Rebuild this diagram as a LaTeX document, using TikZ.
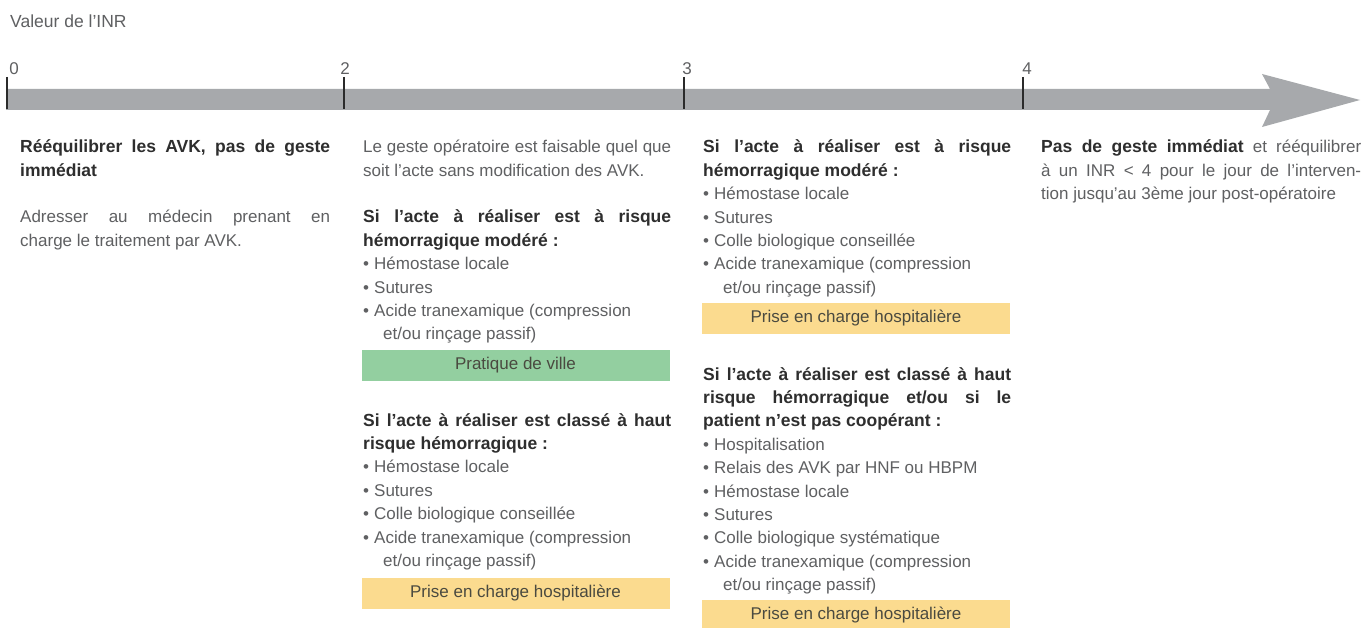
\documentclass[tikz,border=0pt]{standalone}
\usepackage{fontspec}
\setmainfont{Liberation Sans}
\definecolor{txtgrey}{HTML}{5F6062}
\definecolor{hdcol}{HTML}{2E2E2E}
\definecolor{barcol}{HTML}{A7A9AC}
\definecolor{tickcol}{HTML}{2B2B2B}
\definecolor{greenfill}{HTML}{93CFA0}
\definecolor{yellowfill}{HTML}{FBDB8F}
\definecolor{boxtext}{HTML}{4A4A40}
\newcommand\hd[1]{{\fontsize{17.5}{23.4}\selectfont\bfseries\color{hdcol}#1}}
\newcommand\itm[1]{\par\hangindent=20pt\hangafter=1\noindent\makebox[11pt][l]{\textbullet}#1\par}
\begin{document}
\begin{tikzpicture}[x=1pt,y=-1pt,
  txt/.style={anchor=base west, inner sep=0pt, align=justify, text=txtgrey,
    font={\fontsize{17}{23.4}\selectfont\tolerance=10000\hbadness=10000\hyphenpenalty=10000}},
  lbl/.style={inner sep=0pt, text=txtgrey, font={\fontsize{17}{20}\selectfont}},
  tickline/.style={draw=tickcol, line width=2pt},
  hosp/.style={fill=yellowfill, inner sep=0pt, minimum width=308pt, minimum height=31pt,
    text=boxtext, font={\fontsize{17}{20}\selectfont}},
  ville/.style={hosp, fill=greenfill}]
\useasboundingbox (0,0) rectangle (1367,628);
\fill[white] (0,0) rectangle (1367,628);
% axis
\fill[barcol] (6,89) -- (1270,89) -- (1262,74) -- (1360,100) -- (1262,127) -- (1270,110) -- (6,110) -- cycle;
\foreach \xx/\lab in {7/0,344/2,684/3,1023/4}{
  \draw[tickline] (\xx,77) -- (\xx,109);
}
\node[lbl, anchor=base] (l0) at (14,75) {0};
\node[lbl, anchor=base] (l2) at (345,75) {2};
\node[lbl, anchor=base] (l3) at (687,75) {3};
\node[lbl, anchor=base] (l4) at (1027,75) {4};
\node[lbl, anchor=base west, font={\fontsize{17.5}{20}\selectfont}] (title) at (10,28) {Valeur de l'INR};
% column 1
\node[txt, text width=310pt] (c1a) at (20,153) {\hd{Rééquilibrer les AVK, pas de geste\linebreak immédiat}};
\node[txt, text width=310pt] (c1b) at (20,223) {Adresser au médecin prenant en\linebreak charge le traitement par AVK.};
% column 2
\node[txt, text width=308pt] (c2a) at (363,153) {Le geste opératoire est faisable quel que\linebreak soit l'acte sans modification des AVK.};
\node[txt, text width=308pt] (c2b) at (363,223) {\hd{Si l'acte à réaliser est à risque\linebreak hémorragique modéré~:}
  \itm{Hémostase locale}
  \itm{Sutures}
  \itm{Acide tranexamique (compression\newline et/ou rinçage passif)}};
\node[ville] (pv) at (515.5,365.5) {Pratique de ville};
\node[txt, text width=308pt] (c2c) at (363,426) {\hd{Si l'acte à réaliser est classé à haut\linebreak risque hémorragique~:}
  \itm{Hémostase locale}
  \itm{Sutures}
  \itm{Colle biologique conseillée}
  \itm{Acide tranexamique (compression\newline et/ou rinçage passif)}};
\node[hosp] (h2) at (515.5,593) {Prise en charge hospitalière};
% column 3
\node[txt, text width=308pt] (c3a) at (703,153) {\hd{Si l'acte à réaliser est à risque\linebreak hémorragique modéré~:}
  \itm{Hémostase locale}
  \itm{Sutures}
  \itm{Colle biologique conseillée}
  \itm{Acide tranexamique (compression\newline et/ou rinçage passif)}};
\node[hosp] (h3a) at (856,318) {Prise en charge hospitalière};
\node[txt, text width=308pt] (c3b) at (703,380) {\hd{Si l'acte à réaliser est classé à haut\linebreak risque hémorragique et/ou si le\linebreak patient n'est pas coopérant~:}
  \itm{Hospitalisation}
  \itm{Relais des AVK par HNF ou HBPM}
  \itm{Hémostase locale}
  \itm{Sutures}
  \itm{Colle biologique systématique}
  \itm{Acide tranexamique (compression\newline et/ou rinçage passif)}};
\node[hosp] (h3b) at (856,615) {Prise en charge hospitalière};
% column 4
\node[txt, text width=320pt] (c4) at (1041,153) {\parfillskip=0pt \hd{Pas de geste immédiat} et rééquilibrer\linebreak à un INR < 4 pour le jour de l'interven-\linebreak tion jusqu'au 3ème jour post-opératoire};
\end{tikzpicture}
\end{document}
